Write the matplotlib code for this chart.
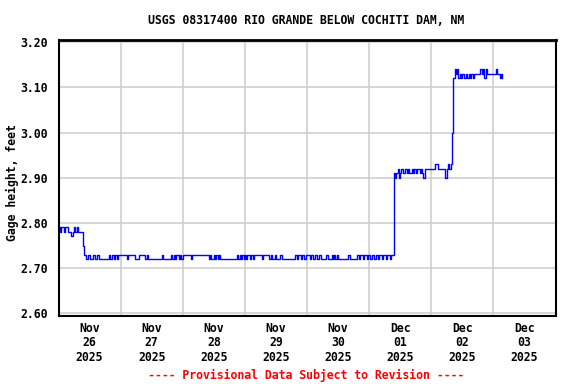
import numpy as np
import matplotlib
matplotlib.use("Agg")
import matplotlib.pyplot as plt
import matplotlib.dates as mdates

# ---- data: 30-minute gage height readings (feet), one list per day ----
day_starts = ["2025-11-26", "2025-11-27", "2025-11-28", "2025-11-29",
              "2025-11-30", "2025-12-01", "2025-12-02", "2025-12-03"]

nov26 = [2.79, 2.78, 2.79, 2.79, 2.78, 2.79, 2.79, 2.78, 2.78, 2.78,
         2.77, 2.78, 2.79, 2.78, 2.79, 2.78, 2.78, 2.78, 2.78, 2.75,
         2.73, 2.72, 2.72, 2.73, 2.72, 2.72, 2.72, 2.73, 2.72, 2.72,
         2.73, 2.72, 2.72, 2.72, 2.72, 2.72, 2.72, 2.72, 2.72, 2.73,
         2.72, 2.73, 2.73, 2.72, 2.73, 2.72, 2.73, 2.73]
nov27 = [2.73, 2.73, 2.73, 2.73, 2.73, 2.72, 2.73, 2.73, 2.73, 2.73,
         2.73, 2.72, 2.72, 2.72, 2.73, 2.73, 2.73, 2.73, 2.73, 2.72,
         2.73, 2.72, 2.72, 2.72, 2.72, 2.72, 2.72, 2.72, 2.72, 2.72,
         2.72, 2.72, 2.73, 2.72, 2.72, 2.72, 2.72, 2.72, 2.72, 2.73,
         2.72, 2.73, 2.72, 2.73, 2.73, 2.72, 2.73, 2.72]
nov28 = [2.73, 2.73, 2.73, 2.73, 2.73, 2.73, 2.72, 2.73, 2.73, 2.73,
         2.73, 2.73, 2.73, 2.73, 2.73, 2.73, 2.73, 2.73, 2.73, 2.73,
         2.72, 2.73, 2.72, 2.72, 2.73, 2.72, 2.73, 2.72, 2.73, 2.72,
         2.72, 2.72, 2.72, 2.72, 2.72, 2.72, 2.72, 2.72, 2.72, 2.72,
         2.72, 2.72, 2.73, 2.72, 2.73, 2.72, 2.73, 2.72]
nov29 = [2.73, 2.72, 2.73, 2.73, 2.72, 2.73, 2.72, 2.73, 2.73, 2.73,
         2.73, 2.73, 2.73, 2.72, 2.73, 2.73, 2.73, 2.73, 2.73, 2.72,
         2.73, 2.72, 2.72, 2.73, 2.72, 2.72, 2.72, 2.73, 2.73, 2.72,
         2.72, 2.72, 2.72, 2.72, 2.72, 2.72, 2.72, 2.72, 2.72, 2.73,
         2.72, 2.73, 2.73, 2.72, 2.73, 2.73, 2.72, 2.73]
nov30 = [2.73, 2.73, 2.72, 2.73, 2.73, 2.72, 2.73, 2.73, 2.72, 2.73,
         2.73, 2.72, 2.72, 2.72, 2.72, 2.73, 2.72, 2.72, 2.72, 2.73,
         2.72, 2.73, 2.72, 2.73, 2.72, 2.72, 2.72, 2.72, 2.72, 2.72,
         2.72, 2.72, 2.73, 2.72, 2.72, 2.72, 2.72, 2.72, 2.72, 2.73,
         2.72, 2.73, 2.73, 2.72, 2.73, 2.73, 2.72, 2.73]
dec01 = [2.73, 2.72, 2.73, 2.73, 2.72, 2.73, 2.73, 2.72, 2.73, 2.73,
         2.72, 2.73, 2.73, 2.72, 2.73, 2.73, 2.72, 2.73, 2.73, 2.91,
         2.90, 2.91, 2.92, 2.90, 2.91, 2.92, 2.91, 2.91, 2.92, 2.91,
         2.92, 2.91, 2.91, 2.92, 2.91, 2.92, 2.91, 2.92, 2.92, 2.91,
         2.92, 2.91, 2.90, 2.92, 2.92, 2.92, 2.92, 2.92]
dec02 = [2.92, 2.92, 2.92, 2.93, 2.93, 2.92, 2.92, 2.92, 2.92, 2.92,
         2.92, 2.90, 2.92, 2.93, 2.92, 2.93, 3.00, 3.12, 3.14, 3.13,
         3.14, 3.12, 3.13, 3.12, 3.13, 3.12, 3.12, 3.13, 3.12, 3.13,
         3.12, 3.13, 3.12, 3.13, 3.13, 3.13, 3.13, 3.13, 3.14, 3.13,
         3.14, 3.12, 3.14, 3.13, 3.13, 3.13, 3.13, 3.13]
dec03 = [3.13, 3.13, 3.14, 3.13, 3.13, 3.12, 3.13, 3.12]

daily = [nov26, nov27, nov28, nov29, nov30, dec01, dec02, dec03]

y_ticks = [2.60, 2.70, 2.80, 2.90, 3.00, 3.10, 3.20]
title = "USGS 08317400 RIO GRANDE BELOW COCHITI DAM, NM"
ylabel = "Gage height, feet"
footer = "---- Provisional Data Subject to Revision ----"

# ---- build time series ----
times = []
values = []
for d, vals in zip(day_starts, daily):
    t0 = np.datetime64(d + "T00:00")
    for i, v in enumerate(vals):
        times.append(t0 + np.timedelta64(30 * i, "m"))
        values.append(v)
times = np.array(times)
values = np.array(values)

# ---- plot ----
font = "DejaVu Sans Mono"
fs = 8.3

fig = plt.figure(figsize=(5.76, 3.84), dpi=100)
ax = fig.add_axes([58.5 / 576, 1 - 316 / 384, (555.5 - 58.5) / 576, (316 - 40) / 384])

ax.plot(times, values, color="#0000ff", linewidth=1.0, drawstyle="steps-post")

ax.set_xlim(np.datetime64("2025-11-26T00:00"), np.datetime64("2025-12-04T00:00"))
ax.set_ylim(2.594, 3.205)

ax.set_yticks(y_ticks)
ax.set_yticklabels([f"{v:.2f}" for v in y_ticks], fontfamily=font,
                   fontweight="bold", fontsize=fs)

ax.xaxis.set_major_locator(mdates.DayLocator())
ax.xaxis.set_major_formatter(plt.NullFormatter())
noon = [np.datetime64(d + "T12:00") for d in day_starts]
ax.set_xticks(noon, minor=True)
labels = []
for n in noon:
    dt = n.astype("datetime64[s]").astype(object)
    labels.append(dt.strftime("%b\n%d\n%Y"))
ax.set_xticklabels(labels, minor=True, fontfamily=font, fontweight="bold",
                   fontsize=fs, linespacing=1.15)

ax.tick_params(axis="both", which="both", length=0)
ax.tick_params(axis="y", pad=8)
ax.tick_params(axis="x", which="minor", pad=4)

ax.grid(True, which="major", color="#cccccc", linewidth=1.1)
ax.set_axisbelow(True)

for side in ["left", "right", "bottom"]:
    ax.spines[side].set_linewidth(1.5)
    ax.spines[side].set_color("black")
ax.spines["top"].set_linewidth(2.0)
ax.spines["top"].set_color("black")

fig.text(306 / 576, 1 - 20 / 384, title, ha="center", va="center",
         fontfamily=font, fontweight="bold", fontsize=fs)
fig.text(12 / 576, 1 - 183 / 384, ylabel, ha="center", va="center", rotation=90,
         fontfamily=font, fontweight="bold", fontsize=fs)
fig.text(306 / 576, 1 - 375 / 384, footer, ha="center", va="center",
         fontfamily=font, fontweight="bold", fontsize=fs, color="#ff0000")

fig.savefig("out.png", dpi=100)
